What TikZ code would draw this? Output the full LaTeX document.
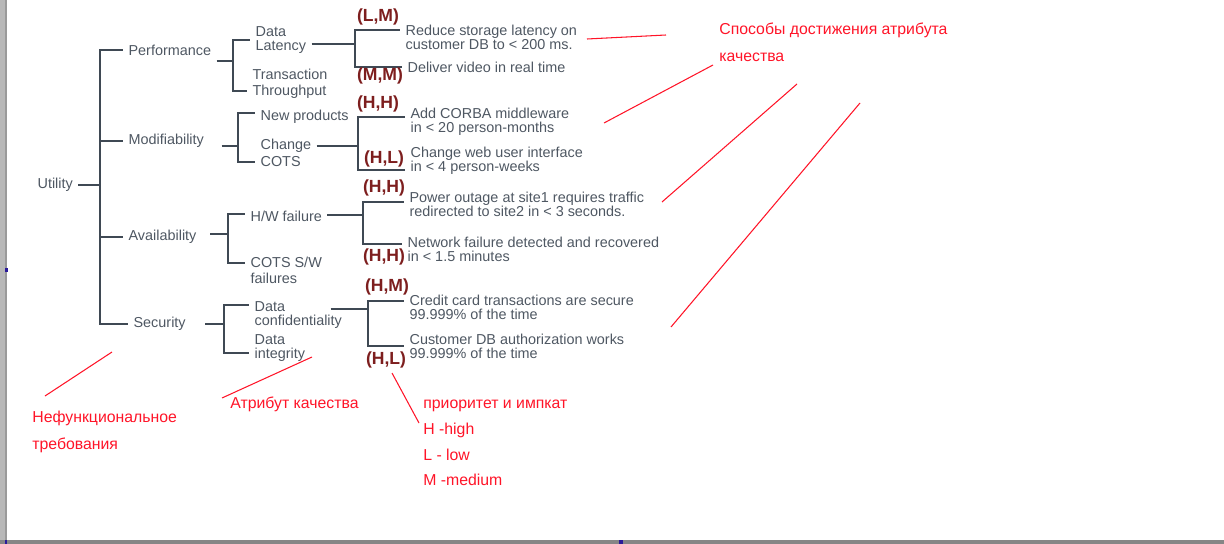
\documentclass[tikz,border=0pt]{standalone}
\usepackage{fontspec}
\setmainfont{Liberation Sans}
\definecolor{treeink}{HTML}{3F4954}
\definecolor{treetext}{HTML}{4E5762}
\definecolor{prioink}{HTML}{7D1E1E}
\definecolor{noteink}{HTML}{FF1428}
\definecolor{frameink}{HTML}{9A9A9A}
\definecolor{markink}{HTML}{2A1A9A}

\begin{document}
\begin{tikzpicture}[x=0.02cm,y=-0.02cm,font=\fontsize{8.2}{8}\selectfont,
    item/.style={anchor=west,inner xsep=3pt,inner ysep=0pt,align=left,text=treetext},
    loose/.style={font=\fontsize{8.2}{9.3}\selectfont},
    prio/.style={inner sep=0pt,text=prioink,font=\fontsize{10}{10}\selectfont\bfseries},
    note/.style={anchor=west,inner sep=0pt,align=left,text=noteink,font=\fontsize{9}{15.3}\selectfont},
    branch/.style={draw=treeink,line width=1.4pt},
    pointer/.style={draw=noteink,line width=.6pt}]
        \useasboundingbox (0,0) rectangle (1224,544);
        % frame of the screenshot
        \fill[frameink!70] (0,0) rectangle (7,544);
        \fill[frameink] (4.5,0) rectangle (7,544);
        \fill[frameink!120] (0,540) rectangle (1224,544);
        \fill[markink] (5,268) rectangle (8,272);
        \fill[markink] (619,540) rectangle (623,544);
        \fill[markink] (4.5,540) rectangle (7,544);

        % utility tree
        \node[item] (utility) at (32,185) {Utility};
        \node[item] (perf) at (123,50) {Performance};
        \node[item] (modif) at (123,141) {Modifiability};
        \node[item] (avail) at (123,237) {Availability};
        \node[item] (secur) at (128,324) {Security};
        \coordinate (ut) at (100,185);
        \draw[branch] (utility) -- (ut);
        \foreach \n in {perf,modif,avail,secur}
          \draw[branch] (ut) |- (\n);

        \node[item] (dlat) at (250,40) {Data\\Latency};
        \node[item,loose] (tput) at (247,83.5) {Transaction\\Throughput};
        \node[item] (newp) at (255,117) {New products};
        \node[item,loose] (chg) at (255,153) {Change\\COTS};
        \node[item] (hwf) at (245,216) {H/W failure};
        \node[item,loose] (cotsw) at (245,270.5) {COTS S/W\\failures};
        \node[item] (dconf) at (249,315) {Data\\confidentiality};
        \node[item] (dint) at (249,348) {Data\\integrity};

        \coordinate (pj) at (233,61);
        \draw[branch] (perf.east |- pj) -- (pj) |- (dlat);
        \draw[branch] (pj) |- ([yshift=-.15cm]tput.west);
        \coordinate (mj) at (238,146);
        \draw[branch] ([xshift=.24cm]modif.east |- mj) -- (mj) |- ([yshift=.08cm]newp.west);
        \draw[branch] (mj) |- ([yshift=-.18cm]chg.west);
        \coordinate (aj) at (228,234);
        \draw[branch] ([xshift=.16cm]avail.east |- aj) -- (aj) |- ([yshift=.04cm]hwf.west);
        \draw[branch] (aj) |- ([yshift=.15cm]cotsw.west);
        \coordinate (sj) at (224,324);
        \draw[branch] ([xshift=.28cm]secur.east |- sj) -- (sj) |- ([yshift=.2cm]dconf.west);
        \draw[branch] (sj) |- ([yshift=-.1cm]dint.west);

        % scenarios
        \node[item] (goal1) at (400,37) {Reduce storage latency on\\customer DB to < 200 ms.};
        \node[item] (goal2) at (402,67) {Deliver video in real time};
        \node[item] (goal3) at (405,122) {Add CORBA middleware\\in < 20 person-months};
        \node[item] (goal4) at (405,161) {Change web user interface\\in < 4 person-weeks};
        \node[item] (goal5) at (404,204) {Power outage at site1 requires traffic\\redirected to site2 in < 3 seconds.};
        \node[item] (goal6) at (402,249) {Network failure detected and recovered\\in < 1.5 minutes};
        \node[item] (goal7) at (404,307) {Credit card transactions are secure\\99.999\% of the time};
        \node[item] (goal8) at (404,346) {Customer DB authorization works\\99.999\% of the time};

        \coordinate (dlj) at (355,44);
        \draw[branch] (dlat.east |- dlj) -- (dlj) |- ([yshift=.14cm]goal1.west);
        \draw[branch] (dlj) |- (goal2);
        \coordinate (cj) at (358,146);
        \draw[branch] (chg.east |- cj) -- (cj) |- ([yshift=.1cm]goal3.west);
        \draw[branch] (cj) |- ([yshift=-.18cm]goal4.west);
        \coordinate (hj) at (363,215);
        \draw[branch] (hwf.east |- hj) -- (hj) |- ([yshift=.04cm]goal5.west);
        \draw[branch] (hj) |- ([yshift=.1cm]goal6.west);
        \coordinate (cfj) at (368,309);
        \draw[branch] ([xshift=-.34cm]dconf.east |- cfj) -- (cfj) |- ([yshift=.12cm]goal7.west);
        \draw[branch] (cfj) |- (goal8);

        % priority / impact
        \node[prio] (lm) at (378,17) {(L,M)};
        \node[prio] (mm) at (380,76) {(M,M)};
        \node[prio] (hh1) at (378,104) {(H,H)};
        \node[prio] (hl1) at (384,159) {(H,L)};
        \node[prio] (hh2) at (384,188) {(H,H)};
        \node[prio] (hh3) at (384,257) {(H,H)};
        \node[prio] (hm) at (387,287) {(H,M)};
        \node[prio] (hl2) at (386,360) {(H,L)};

        % notes in red
        \node[note] (howto) at (719,42.5) {Способы достижения атрибута\\качества};
        \node[note] (nfr) at (32,431.5) {Нефункциональное\\требования};
        \node[note] (qattr) at (230,404) {Атрибут качества};
        \node[note,font=\fontsize{9}{14.7}\selectfont] (legend) at (423,443) {приоритет и импкат\\H -high\\L - low\\M -medium};

        \coordinate (p1a) at (587,39);  \coordinate (p1b) at (666,35);
        \coordinate (p2a) at (604,123); \coordinate (p2b) at (713,65);
        \coordinate (p3a) at (662,202); \coordinate (p3b) at (797,84);
        \coordinate (p4a) at (671,327); \coordinate (p4b) at (860,103);
        \coordinate (p5a) at (112,352); \coordinate (p5b) at (45,396);
        \coordinate (p6a) at (312,357); \coordinate (p6b) at (222,398);
        \coordinate (p7a) at (392,373); \coordinate (p7b) at (419,423);
        \foreach \k in {1,...,7}
          \draw[pointer] (p\k a) -- (p\k b);
      \end{tikzpicture}
\end{document}
